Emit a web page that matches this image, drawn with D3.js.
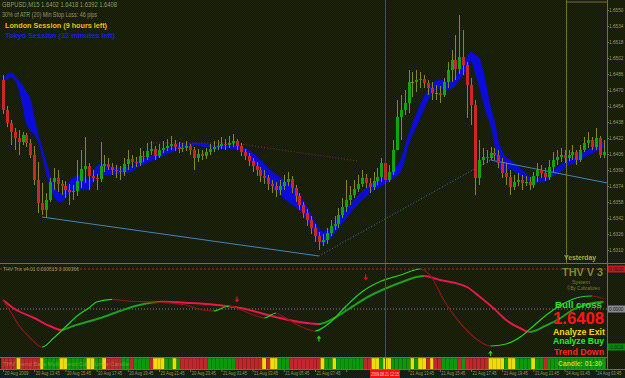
<!DOCTYPE html>
<html>
<head>
<meta charset="utf-8">
<script src="https://cdn.jsdelivr.net/npm/d3@7"></script>
<style>
  body { margin: 0; background: #131a30; overflow: hidden; }
  svg { display: block; font-family: "Liberation Sans", Arial, sans-serif; }
</style>
</head>
<body>
<script>
// ---- chart data (prices kept in pips above 1.6000) ----
const firstOpen = 480;
const closePips = [
  450,437,428,422,418,425,417,405,380,357, 350,360,378,382,376,374,370,368,369,379,
  391,394,384,382,381,394,396,393,390,389, 388,396,401,398,397,404,403,409,411,404,
  410,412,414,416,413,411,412,414,410,402, 406,404,408,411,413,414,416,415,417,419,
  414,408,404,399,394,390,384,382,376,374, 370,374,378,381,372,364,355,347,340,332,
  324,318,320,327,334,336,345,353,360,365, 371,376,382,377,373,379,383,397,380,388,
  410,443,450,457,478,478,480,481,477,472, 467,467,465,478,490,500,491,503,495,475,
  455,382,400,403,402,407,405,397,387,383, 373,378,380,377,378,375,384,390,387,383,
  393,400,403,405,402,405,408,400,410,417, 420,413,422,405,408
];
const highPips = [
  485,454,440,432,430,428,427,421,414,398, 377,367,382,392,390,380,379,376,375,400,
  410,423,397,390,386,418,405,402,397,395, 394,402,410,405,403,412,409,417,419,414,
  416,419,421,424,420,418,417,419,416,413, 411,410,412,416,419,420,423,421,424,426,
  421,417,411,407,402,398,393,390,385,380, 378,380,385,388,384,375,367,358,351,344,
  336,328,326,332,340,344,352,362,380,374, 380,385,390,386,382,388,392,402,400,395,
  420,460,465,470,490,488,490,488,485,480, 478,475,474,482,498,510,525,545,530,498,
  482,460,420,412,410,413,412,410,402,397, 390,385,387,385,384,383,388,397,395,392,
  400,408,410,412,410,410,415,410,415,423, 428,423,432,424,420
];
const lowPips = [
  446,433,415,410,405,415,413,402,375,347, 345,343,358,370,368,365,362,355,360,364,
  372,377,370,378,370,378,388,390,385,382, 380,384,390,392,393,394,398,400,405,400,
  402,407,409,410,409,407,408,409,405,390, 398,400,401,405,408,410,411,410,412,413,
  410,404,400,394,388,384,378,376,370,367, 363,365,370,374,367,358,350,342,334,326,
  318,310,314,316,324,330,332,342,348,355, 362,368,373,372,367,370,375,378,376,378,
  385,410,420,445,447,463,468,472,472,465, 460,460,457,463,472,478,480,486,485,442,
  435,365,375,395,397,400,400,392,382,375, 365,370,374,370,374,370,372,378,382,379,
  380,388,395,398,397,399,400,395,398,408, 412,410,410,402,402
];

// blue MA ribbon read at key bars
const ribbonIdx = [0,2,4,5,6,7,8,9,10,11,12,13,14,15,16,17,18,19,20,22,24,25,27,29,31,33,35,38,40,43,46,49,52,55,58,60,62,64,66,68,70,72,74,76,78,80,82,84,86,88,90,92,94,96,98,100,102,104,106,108,110,112,114,116,118,119,120,121,122,124,125,126,127,128,129,130,131,133,134,135,137,139,140,142,143,145,147,149,151,153,154];
const ribbonTop = [481,487,479,474,468,460,442,425,412,398,385,375,368,366,372,378,382,384,385,380,393,396,394,392,392,394,399,404,407,412,416,417,416,414,414,414,412,407,400,392,385,380,375,365,352,338,328,332,342,352,360,368,374,380,384,390,400,425,445,463,476,480,478,482,498,503,508,505,502,472,452,438,418,408,402,400,397,390,387,383,381,383,386,392,395,400,403,408,412,415,418];
const ribbonBot = [476,483,472,456,437,430,426,419,406,389,375,365,359,358,363,368,370,370,371,371,386,385,385,386,387,389,394,399,403,408,412,415,413,411,412,411,407,399,390,379,369,362,356,350,340,326,317,322,332,342,352,360,367,372,377,382,389,416,434,452,467,472,470,475,486,491,500,489,476,447,436,418,394,389,387,392,389,384,381,379,378,379,382,386,389,395,398,403,407,411,413];

// trend lines as [bar, pips]
const supportLine = [[10, 343], [81, 304]];
const riseLine = [[81, 304], [125, 400]];
const slideLine = [[125, 400], [155, 377]];
const resistLine = [[37, 417], [59, 417], [91, 399]];

// THV Trix lines as [bar, value x 1e-4]
const trixFast = [[0,4.5],[2,-1.5],[4,-8],[7,-14.5],[10,-19],[13,-14.5],[16,-9],[19,-3.5],[22,0.5],[24,3.5],[28,4.8],[32,4],[39,3.5],[47,2],[50,0],[54,-1],[58,1.5],[61,-0.5],[65,-3.5],[67,-4.5],[70,-2],[72,-4],[76,-8.5],[80,-11],[84,-6.5],[88,1.5],[92,8.5],[97,14],[102,17],[107,20],[110,15.5],[113,4.5],[117,-6.5],[121,-14.5],[125,-18.5],[129,-17.5],[133,-13.5],[136,-8.5],[140,-2],[144,3],[148,6],[151,6.5],[154,5.15]];
const trixSlow = [[0,4.5],[3,0],[8,-4.5],[12,-8.5],[15,-10.5],[18,-8.5],[25,-4.5],[30,-1],[35,2],[41,3.6],[48,3],[52,2.5],[57,1.5],[61,0.5],[66,-2],[71,-4.5],[76,-6.5],[81,-7.5],[85,-4.5],[89,0.5],[94,6.5],[99,11],[103,14],[106,16],[108,16.5],[112,14.5],[116,13],[119,11],[122,6.5],[126,0],[129,-5.5],[133,-10],[135,-11.5],[139,-8.5],[143,-4.5],[146,-0.5],[150,2.5],[154,3.66]];
const sellArrows = [[60, 4.5], [93, 15.5]];
const buyArrows = [[81, -14.5], [125, -22]];

// trend bar colours per candle: r = down, y = neutral, g = up
const barSignals = ("rrrr y rrrrr y gggg yy ggggg yy gg y rrrr gg r gggg r yyy gg y g " +
  "rrrrrrr ggggggg rrrrrrr y r yy ggg rrrrrrrr y gg y ggggggg rr yy g yy ggggg y g yy r y rr " +
  "gggg r g rrrrrr yyyy g yy gggg y gg r ggggggggggggggg").replace(/ /g, "").split("");

const priceTicks = [1.6550,1.6534,1.6518,1.6502,1.6486,1.6470,1.6454,1.6438,1.6422,1.6406,1.6390,1.6374,1.6358,1.6342,1.6326,1.6310];
const timeLabels = ["20 Aug 2009","20 Aug 13:45","20 Aug 15:45","20 Aug 17:45","20 Aug 19:45","20 Aug 21:45","20 Aug 23:45","21 Aug 01:45","21 Aug 03:45","21 Aug 05:45","21 Aug 07:45","21 Aug 09:45","21 Aug 11:45","21 Aug 13:45","21 Aug 15:45","21 Aug 17:45","21 Aug 19:45","21 Aug 21:45","24 Aug 01:45","24 Aug 03:45"];
const timeTickIdx = timeLabels.map((d, k) => k * 8);
const markerBar = 98;      // red vertical line
const markerTime = "2009.08.21 12:15";
const yesterdayBar = 144.5; // day separator
const yesterdayHigh = 558;

// ---- set up ----
const W = 625, H = 378;
const olive = "#74742e";
const dimText = "#9a9a62";
const svg = d3.select("body").append("svg").attr("width", W).attr("height", H);
const defs = svg.append("defs");

// dithered background like the original gif
const pat = defs.append("pattern").attr("id", "dither")
  .attr("width", 2).attr("height", 2).attr("patternUnits", "userSpaceOnUse");
pat.append("rect").attr("width", 2).attr("height", 2).attr("fill", "#08104e");
pat.append("rect").attr("width", 1).attr("height", 1).attr("fill", "#1e2410");
pat.append("rect").attr("x", 1).attr("y", 1).attr("width", 1).attr("height", 1).attr("fill", "#1e2410");
svg.append("rect").attr("width", W).attr("height", H).attr("fill", "url(#dither)");

const toPrice = p => 1.6 + p / 10000;
const x = d3.scaleLinear().domain([0, 154]).range([3, 603.6]);
const y = d3.scaleLinear().domain([1.6560, 1.6300]).range([0, 260]);
const yInd = d3.scaleLinear().domain([0, 20]).range([309, 269]);
const step = x(1) - x(0);

defs.append("clipPath").attr("id", "mainClip").append("rect")
  .attr("x", 0).attr("y", 0).attr("width", 607).attr("height", 263);
defs.append("clipPath").attr("id", "indClip").append("rect")
  .attr("x", 0).attr("y", 264).attr("width", 607).attr("height", 92);

const main = svg.append("g").attr("clip-path", "url(#mainClip)");

// ribbon
const ribbon = ribbonIdx.map((i, k) => ({ i, top: ribbonTop[k], bot: ribbonBot[k] }));
const area = d3.area()
  .x(d => x(d.i))
  .y0(d => y(toPrice(d.bot)))
  .y1(d => y(toPrice(d.top)))
  .curve(d3.curveMonotoneX);
main.append("path").datum(ribbon)
  .attr("d", area)
  .attr("fill", "#0c0cd8")
  .attr("stroke", "#0c0cd8")
  .attr("stroke-width", 1);

// trend lines
const tl = d3.line().x(d => x(d[0])).y(d => y(toPrice(d[1])));
main.append("path").datum(supportLine).attr("d", tl)
  .attr("fill", "none").attr("stroke", "#3f86c4").attr("stroke-width", 1);
main.append("path").datum(riseLine).attr("d", tl)
  .attr("fill", "none").attr("stroke", "#3a74aa").attr("stroke-width", 1).attr("stroke-dasharray", "1,2");
main.append("path").datum(slideLine).attr("d", tl)
  .attr("fill", "none").attr("stroke", "#3f86c4").attr("stroke-width", 1);
main.append("path").datum(resistLine).attr("d", tl)
  .attr("fill", "none").attr("stroke", "#8c2a2a").attr("stroke-width", 1).attr("stroke-dasharray", "1,2");

// candles
const bars = closePips.map((c, i) => ({
  i, o: i ? closePips[i - 1] : firstOpen, c, h: highPips[i], l: lowPips[i]
}));
const cg = main.append("g").attr("shape-rendering", "crispEdges");
cg.selectAll("line.wick").data(bars).enter().append("line")
  .attr("x1", d => Math.round(x(d.i)) + 0.5)
  .attr("x2", d => Math.round(x(d.i)) + 0.5)
  .attr("y1", d => y(toPrice(d.h)))
  .attr("y2", d => y(toPrice(d.l)))
  .attr("stroke", "#86862a");
cg.selectAll("rect.body").data(bars).enter().append("rect")
  .attr("x", d => Math.round(x(d.i)) - 1)
  .attr("width", 3)
  .attr("y", d => y(toPrice(Math.max(d.o, d.c))))
  .attr("height", d => Math.max(1, Math.abs(y(toPrice(d.o)) - y(toPrice(d.c)))))
  .attr("fill", d => d.c > d.o ? "#0ea60e" : d.c < d.o ? "#cc2626" : "#86862a");

// day separator and yesterday high
svg.append("line")
  .attr("x1", x(yesterdayBar)).attr("x2", x(yesterdayBar))
  .attr("y1", 0).attr("y2", 263).attr("stroke", olive);
svg.append("line")
  .attr("x1", x(yesterdayBar)).attr("x2", 607)
  .attr("y1", y(toPrice(yesterdayHigh))).attr("y2", y(toPrice(yesterdayHigh))).attr("stroke", olive);

// ---- indicator panel ----
const ind = svg.append("g").attr("clip-path", "url(#indClip)");
ind.append("line").attr("x1", 0).attr("x2", 607).attr("y1", yInd(20)).attr("y2", yInd(20))
  .attr("stroke", "#963030").attr("stroke-dasharray", "2,2");
ind.append("line").attr("x1", 0).attr("x2", 607).attr("y1", yInd(0)).attr("y2", yInd(0))
  .attr("stroke", "#7a7a7a").attr("stroke-dasharray", "1,2");

let uid = 0;
function drawTrix(points, upColor, downColor, width) {
  const line = d3.line().x(d => x(d[0])).y(d => yInd(d[1])).curve(d3.curveMonotoneX);
  // group segments by slope direction
  const runs = [];
  for (let k = 0; k < points.length - 1; k++) {
    const up = points[k + 1][1] >= points[k][1];
    const last = runs[runs.length - 1];
    if (last && last.up === up) last.end = points[k + 1][0];
    else runs.push({ start: points[k][0], end: points[k + 1][0], up });
  }
  runs.forEach((r, n) => {
    const id = "trix" + (uid++);
    const x0 = n === 0 ? 0 : x(r.start);
    const x1 = n === runs.length - 1 ? 607 : x(r.end);
    defs.append("clipPath").attr("id", id).append("rect")
      .attr("x", x0).attr("y", 264).attr("width", x1 - x0).attr("height", 93);
    ind.append("path").datum(points)
      .attr("d", line)
      .attr("fill", "none")
      .attr("stroke", r.up ? upColor : downColor)
      .attr("stroke-width", width)
      .attr("clip-path", `url(#${id})`);
  });
}
drawTrix(trixSlow, "#1f9f1f", "#e8174c", 2);
drawTrix(trixFast, "#22d622", "#8e1616", 1.2);

// signal arrows
function arrow(cx, cy, up, color) {
  const s = up ? -1 : 1;
  const p = `M${cx - 0.6},${cy - 3.5 * s} h1.2 v${3 * s} h1.8 l-2.4,${3 * s} l-2.4,${-3 * s} h1.8 z`;
  ind.append("path").attr("d", p).attr("fill", color);
}
sellArrows.forEach(d => arrow(x(d[0]), yInd(d[1]), false, "#e01414"));
buyArrows.forEach(d => arrow(x(d[0]), yInd(d[1]), true, "#20d020"));

// ---- trend bar strip ----
const barColor = { r: "#c0282e", y: "#f0dc08", g: "#0c9a0c" };
const barEdge = { r: "#8e1c20", y: "#b8a806", g: "#087208" };
svg.append("g").attr("shape-rendering", "crispEdges")
  .selectAll("rect").data(barSignals).enter().append("rect")
  .attr("x", (d, i) => x(i) - step / 2)
  .attr("width", step)
  .attr("y", 358)
  .attr("height", 11)
  .attr("fill", d => barColor[d])
  .attr("stroke", d => barEdge[d])
  .attr("stroke-width", 0.6);

// red marker line through all windows
const mx = Math.round(x(markerBar));
svg.append("line")
  .attr("x1", mx + 0.5).attr("x2", mx + 0.5)
  .attr("y1", 0).attr("y2", 370).attr("stroke", "#d81010");

// window borders
svg.append("g").attr("stroke", olive).attr("shape-rendering", "crispEdges")
  .call(g => {
    g.append("line").attr("x1", 0).attr("x2", W).attr("y1", 263.5).attr("y2", 263.5);
    g.append("line").attr("x1", 0).attr("x2", 607).attr("y1", 357.5).attr("y2", 357.5);
    g.append("line").attr("x1", 0).attr("x2", W).attr("y1", 369.5).attr("y2", 369.5);
    g.append("line").attr("x1", 607.5).attr("x2", 607.5).attr("y1", 0).attr("y2", 370);
  });

// ---- axes ----
const yAxis = d3.axisRight(y)
  .tickValues(priceTicks)
  .tickSize(2)
  .tickPadding(0)
  .tickFormat(d3.format(".4f"));
const gY = svg.append("g").attr("transform", "translate(607,0)").call(yAxis);
gY.select(".domain").remove();
gY.selectAll("line").attr("stroke", olive);
gY.selectAll("text").attr("fill", dimText).attr("font-size", "4.9px")
  .attr("font-family", "Liberation Sans, Arial, sans-serif")
  .attr("textLength", 14.5).attr("lengthAdjust", "spacingAndGlyphs");

// time labels; the one under the marker box is hidden as in the original
const boxL = mx - 15, boxR = mx + 15;
const xAxis = d3.axisBottom(x)
  .tickValues(timeTickIdx)
  .tickSize(2)
  .tickFormat((d, k) => {
    const l = x(d) + 1;
    return (l + 24 > boxL && l < boxR) ? "" : timeLabels[k];
  });
const gX = svg.append("g").attr("transform", "translate(0,370)").call(xAxis);
gX.select(".domain").remove();
gX.selectAll("line").attr("stroke", olive);
gX.selectAll("text").attr("fill", dimText).attr("font-size", "4.5px")
  .attr("font-family", "Liberation Sans, Arial, sans-serif")
  .attr("text-anchor", "start").attr("x", 1).attr("y", 2.2)
  .attr("textLength", 24).attr("lengthAdjust", "spacingAndGlyphs");

// marker time box
svg.append("rect").attr("x", boxL).attr("y", 370).attr("width", boxR - boxL).attr("height", 8).attr("fill", "#f01010");
svg.append("text").attr("x", boxL + 1).attr("y", 376.3)
  .attr("fill", "#ffd8d8").style("font-size", "4.6px").text(markerTime)
  .attr("textLength", 28).attr("lengthAdjust", "spacingAndGlyphs");

// indicator scale boxes
[[20, "0.0020", "#c81818"], [0, "0.0000", "#8a8a8a"], [-19, "-0.0019", "#0a8c0a"]].forEach(([v, t, c]) => {
  svg.append("rect").attr("x", 608).attr("y", yInd(v) - 3.5).attr("width", 17).attr("height", 7).attr("fill", c);
  svg.append("text").attr("x", 609).attr("y", yInd(v) + 2.2).attr("fill", "#1a1a1a")
    .style("font-size", "4.6px").text(t).attr("textLength", 14.5).attr("lengthAdjust", "spacingAndGlyphs");
});

// ---- texts ----
function label(txt, x0, y0, size, color, bold, len) {
  const t = svg.append("text").attr("x", x0).attr("y", y0).text(txt)
    .attr("fill", color)
    .style("font-size", size + "px")
    .style("font-weight", bold ? "bold" : "normal");
  if (len) t.attr("textLength", len).attr("lengthAdjust", "spacingAndGlyphs");
  return t;
}
label("GBPUSD,M15  1.6402 1.6418 1.6392 1.6408", 2, 7, 6.5, dimText, false, 115);
label("30% of ATR (20)      Min Stop Loss: 46 pips", 2, 17, 6.5, dimText, false, 95);
label("London Session (9 hours left)", 5, 28, 7.5, "#e8c200", true, 102);
label("Tokyo Session (32 minutes left)", 5, 37.5, 7.5, "#1c1cf0", true, 110);
label("Yesterday", 564, 260, 7, "#b4a83c", true, 32);

label("THV Trix v4.01  0.000515  0.000366", 3, 271, 6, dimText, false, 76);
label("THV V 3", 562, 276, 11, "#84843a", true, 41);
label("System", 572, 283.5, 6, "#7e7e40", false, 18);
label("\u00a9By Cobraforex", 567, 290, 6, "#7e7e40", false, 33);
label("Bull cross", 555, 308, 9.5, "#2ee02e", true, 47);
label("1.6408", 553, 323.5, 16.5, "#ff1414", true, 51);
label("Analyze Exit", 553, 335, 9, "#ffd400", true, 52);
label("Analyze Buy", 553, 344, 9, "#22ee22", true, 51);
label("Trend Down", 554, 355, 9, "#ff2222", true, 50);
label("Candle: 01:30", 558, 366, 7, "#d8c820", true, 44);
label("THV Trend Bars   Multi Trend   Coral Lines   Candle", 3, 366, 5.5, "#c8c070", false, 126)
  .attr("opacity", 0.45);
</script>
</body>
</html>
